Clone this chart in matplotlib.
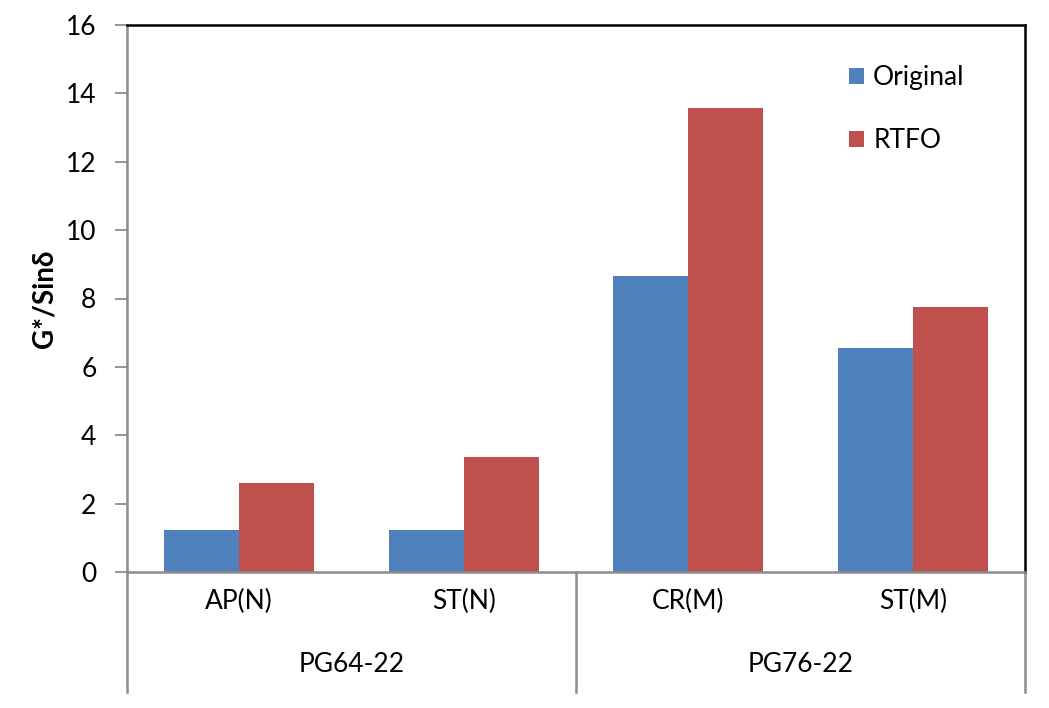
import matplotlib.pyplot as plt
import numpy as np

subgroups = ['AP(N)', 'ST(N)', 'CR(M)', 'ST(M)']
groups = ['PG64-22', 'PG76-22']
original = [1.23, 1.23, 8.65, 6.55]
rtfo = [2.59, 3.36, 13.57, 7.74]
yticks = [0, 2, 4, 6, 8, 10, 12, 14, 16]

BLUE = '#4f81bd'
RED = '#c0504d'
GRAY = '#8c8c8c'
FS = 19


def main():
    plt.rcParams['font.family'] = ['Lato', 'DejaVu Sans']
    fig = plt.figure(figsize=(10.49, 7.08), dpi=100)
    ax = fig.add_axes([127 / 1049, 1 - 572 / 708,
                       (1025 - 127) / 1049, (572 - 25) / 708])

    x = np.arange(len(subgroups)) + 0.5
    w = 1 / 3
    ax.bar(x - w / 2, original, w, color=BLUE, label='Original')
    ax.bar(x + w / 2, rtfo, w, color=RED, label='RTFO')

    ax.set_xlim(0, len(subgroups))
    ax.set_ylim(0, 16)
    ax.set_yticks(yticks)
    ax.set_yticklabels([str(v) for v in yticks], fontsize=FS)
    ax.tick_params(axis='y', length=9, width=1.3, color=GRAY, pad=13)
    ax.set_xticks([])

    for side in ['left', 'bottom']:
        ax.spines[side].set_color(GRAY)
        ax.spines[side].set_linewidth(1.8)
    for side in ['top', 'right']:
        ax.spines[side].set_color('black')
        ax.spines[side].set_linewidth(1.8)

    ax.set_ylabel('G*/Sin\u03b4', fontsize=20, fontweight='bold', labelpad=6)

    # category axis below the plot
    trans = ax.get_xaxis_transform()
    low = -(692 - 572) / (572 - 25)
    for xv in [0, 2, 4]:
        ax.plot([xv, xv], [0, low], transform=trans, color=GRAY, lw=1.8,
                clip_on=False)
    sub_y = -(601 - 572) / (572 - 25)
    grp_y = -(665 - 572) / (572 - 25)
    for xi, lab in zip(x, subgroups):
        ax.text(xi, sub_y, lab, transform=trans, ha='center', va='center',
                fontsize=FS)
    for gi, lab in enumerate(groups):
        ax.text(gi * 2 + 1, grp_y, lab, transform=trans, ha='center',
                va='center', fontsize=FS)

    ax.legend(loc='upper left', bbox_to_anchor=(0.778, 0.97), frameon=False,
              fontsize=FS, handlelength=0.55, handleheight=0.55,
              handletextpad=0.35, labelspacing=1.45)

    fig.savefig('out.png', dpi=100)


if __name__ == '__main__':
    main()
